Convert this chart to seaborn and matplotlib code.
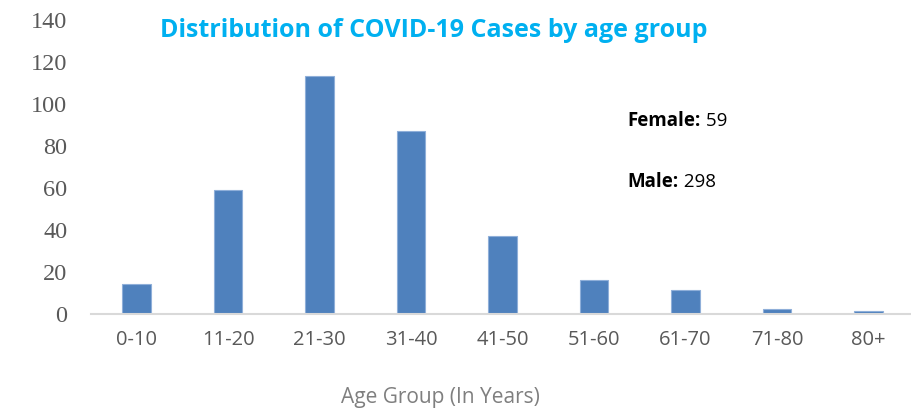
import matplotlib
matplotlib.use("Agg")
import matplotlib.pyplot as plt
import seaborn as sns
import pandas as pd

# === DATA ===
age_groups = ["0-10", "11-20", "21-30", "31-40", "41-50", "51-60", "61-70", "71-80", "80+"]
cases = [14, 59, 113, 87, 37, 16, 11, 2, 1]
y_ticks = [0, 20, 40, 60, 80, 100, 120, 140]
female_count = 59
male_count = 298

BAR_COLOR = "#4F81BD"
TEXT_GREY = "#595959"
TITLE_BLUE = "#00B0F0"

df = pd.DataFrame({"age": age_groups, "cases": cases})

sns.set_style("white")
fig = plt.figure(figsize=(9.12, 4.11), dpi=100)
ax = fig.add_axes([0.0995, 0.2372, 0.903, 0.7153])

sns.barplot(data=df, x="age", y="cases", color=BAR_COLOR, width=0.31,
            edgecolor="#8FAFD9", linewidth=0.8, saturation=1, ax=ax)

ax.set_xlim(-0.5, len(age_groups) - 0.5)
ax.set_ylim(0, 140)
ax.set_yticks(y_ticks)
ax.set_yticklabels([str(t) for t in y_ticks], fontfamily="Liberation Serif",
                   fontsize=17.5, color=TEXT_GREY)
ax.set_xticks(range(len(age_groups)))
ax.set_xticklabels(age_groups, fontfamily="Open Sans", fontsize=14.5, color=TEXT_GREY)
ax.tick_params(axis="y", length=0, pad=17)
ax.tick_params(axis="x", length=0, pad=12)

for side in ["left", "right", "top"]:
    ax.spines[side].set_visible(False)
ax.spines["bottom"].set_color("#D9D9D9")
ax.spines["bottom"].set_linewidth(1.5)

ax.set_xlabel("")
ax.set_ylabel("")
fig.text(0.4825, 0.034, "Age Group (In Years)", ha="center", va="center",
         fontfamily="Open Sans", fontsize=15, color="#7F7F7F")

fig.text(0.476, 0.926, "Distribution of COVID-19 Cases by age group", ha="center",
         va="center", fontfamily="Open Sans", fontweight="bold", fontsize=18,
         color=TITLE_BLUE)

# gender counts
t1 = fig.text(0.688, 0.705, "Female:", ha="left", va="center", fontfamily="Open Sans",
              fontweight="bold", fontsize=13.5, color="black")
ax.annotate(" " + str(female_count), xy=(1, 0.5), xycoords=t1, va="center",
            fontfamily="Open Sans", fontsize=13.5, color="black")
t2 = fig.text(0.688, 0.557, "Male:", ha="left", va="center", fontfamily="Open Sans",
              fontweight="bold", fontsize=13.5, color="black")
ax.annotate(" " + str(male_count), xy=(1, 0.5), xycoords=t2, va="center",
            fontfamily="Open Sans", fontsize=13.5, color="black")

fig.savefig("out.png", dpi=100)
